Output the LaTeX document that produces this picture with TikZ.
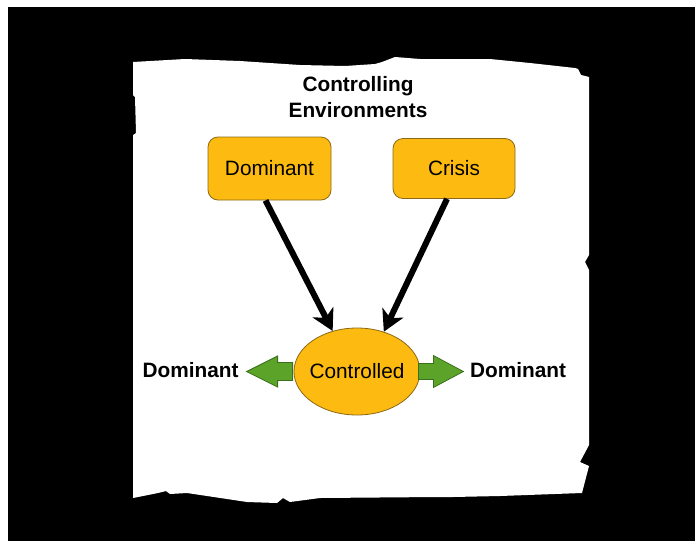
\documentclass[tikz,border=0pt]{standalone}
\usepackage{fontspec}
\setmainfont{Liberation Sans}
\usetikzlibrary{arrows.meta,shapes.geometric}
\definecolor{boxfill}{RGB}{253,187,17}
\definecolor{boxline}{RGB}{140,105,20}
\definecolor{gfill}{RGB}{92,163,42}
\definecolor{gline}{RGB}{58,112,28}
\tikzset{
  txt/.style={font=\fontsize{20.8}{24}\selectfont, inner sep=0pt},
  btxt/.style={font=\bfseries\fontsize{20.8}{26}\selectfont, inner sep=0pt, align=center},
  envbox/.style={draw=boxline, fill=boxfill, line width=0.8pt, rounded corners=10pt,
    inner sep=0pt, font=\fontsize{20.8}{24}\selectfont},
  ctrlell/.style={ellipse, draw=boxline, fill=boxfill, line width=0.8pt, inner ysep=0pt,
    inner xsep=-14pt, minimum width=126pt, minimum height=87pt, font=\fontsize{20.8}{24}\selectfont},
  blackarrow/.style={line width=6pt, -{Stealth[length=21pt,width=23pt,inset=6pt]}},
  garrow/.style={draw=gline, fill=gfill, line width=0.8pt, line join=miter},
}
\begin{document}
\begin{tikzpicture}[x=1pt,y=-1pt]
\useasboundingbox (0,0) rectangle (695,541);
\fill[white] (0,0) rectangle (695,541);
\fill[black] (8,7) rectangle (695,541);
% torn paper
\fill[white] (133,62) -- (185,59) -- (240,61) -- (300,65) -- (345,66) -- (375,64) -- (382,62)
  -- (395,57) -- (420,59) -- (490,59) -- (530,63) -- (575,68) -- (578,69) -- (581,75)
  -- (589,77) -- (589,255) -- (585,262) -- (589,270) -- (589,445) -- (580,462) -- (589,466)
  -- (582,493) -- (500,496) -- (453,497) -- (437,497) -- (320,498) -- (290,502) -- (283,498)
  -- (277,503) -- (247,502) -- (187,493) -- (170,494) -- (166,491) -- (158,493) -- (133,498)
  -- (133,135) -- (136,133) -- (135,97) -- (133,95) -- cycle;
% nodes
\node[btxt] (title) at (358,97) {Controlling\\Environments};
\node[envbox, minimum width=123pt, minimum height=63pt] (dom) at (269.5,168.5) {Dominant};
\node[envbox, minimum width=122pt, minimum height=60pt] (cri) at (454,168.5) {Crisis};
\node[ctrlell] (ctrl) at (357,371.5) {Controlled};
\node[btxt] (ldom) at (190.5,370) {Dominant};
\node[btxt] (rdom) at (518,370) {Dominant};
% black arrows
\draw[blackarrow] ([xshift=-4pt]dom.south) -- (ctrl.121);
\draw[blackarrow] ([xshift=-7pt]cri.south) -- (ctrl.56);
% green arrows
\begin{scope}[shift={(ctrl.west)}]
\draw[garrow] (-1,-9) -- (-16,-9) -- (-16,-15.5) -- (-47,0) -- (-16,15.5) -- (-16,9) -- (-1,9) -- cycle;
\end{scope}
\begin{scope}[shift={(ctrl.east)}]
\draw[garrow] (-2,-8) -- (13,-8) -- (13,-16) -- (43,0) -- (13,16) -- (13,8) -- (-2,8) -- cycle;
\end{scope}
\end{tikzpicture}
\end{document}
